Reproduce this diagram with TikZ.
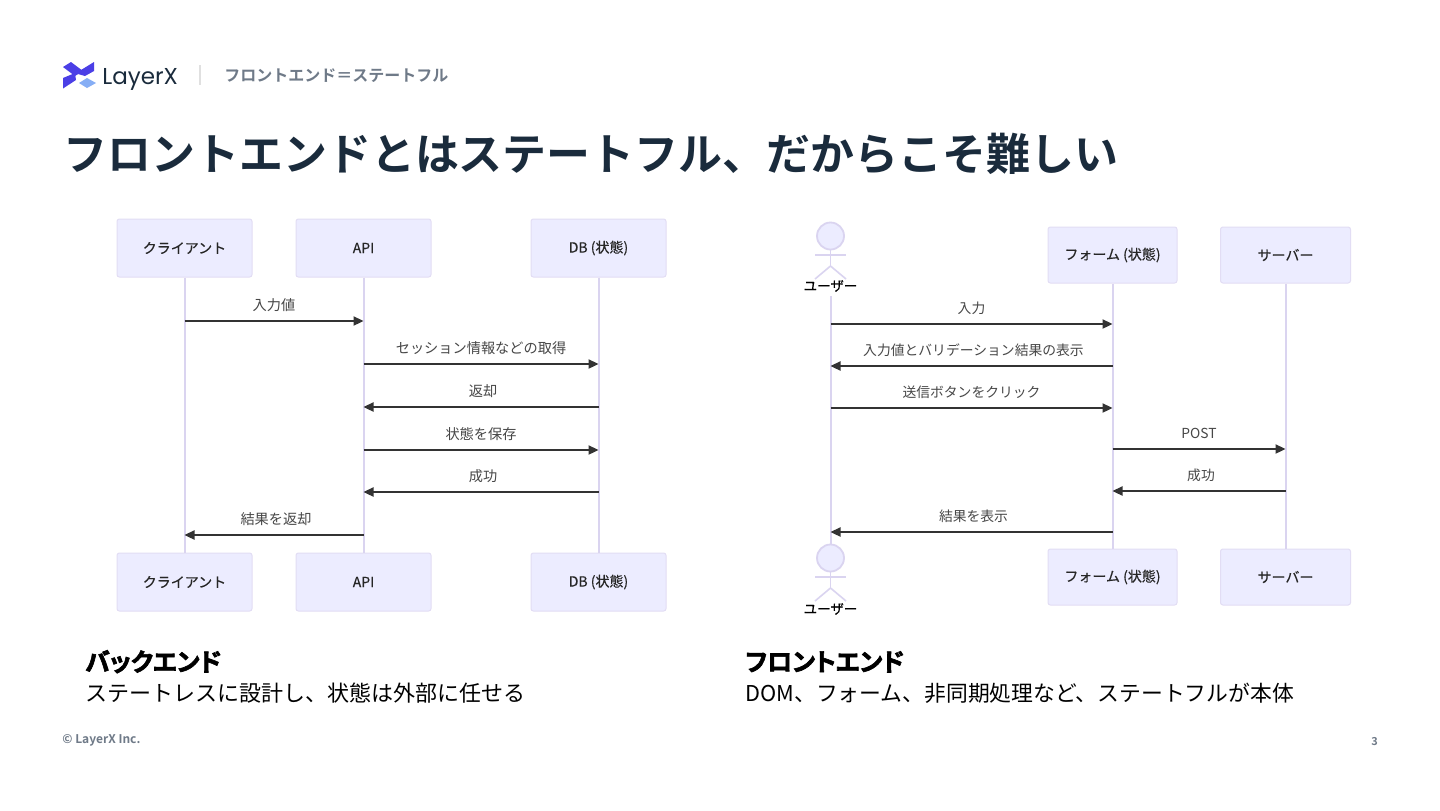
\documentclass[tikz,border=0pt]{standalone}
\usepackage{fontspec}
\usetikzlibrary{arrows.meta,calc}
\setmainfont{Noto Sans CJK JP}
\newfontfamily\jpbold{Noto Sans CJK JP Bold}
\newfontfamily\jpfake[FakeBold=2.5,RawFeature={+palt}]{Noto Sans CJK JP Bold}
\newfontfamily\jpsemi[FakeBold=0.4]{Noto Sans CJK JP}
\newfontfamily\logofont{Poppins}
\newcommand{\pxs}[1]{\fontsize{\dimexpr#1pt/2\relax}{\dimexpr#1pt*3/5\relax}\selectfont}
\definecolor{lifeln}{HTML}{DAD4F0}
\definecolor{boxfill}{HTML}{ECECFF}
\definecolor{boxline}{HTML}{E2DDF4}
\definecolor{titlec}{HTML}{1A2B3C}
\definecolor{subc}{HTML}{6F7A88}
\definecolor{msgc}{HTML}{333333}
\definecolor{logoa}{HTML}{4B3FE6}
\definecolor{logob}{HTML}{86AEF5}
\tikzset{
  x=0.5pt,y=-0.5pt,
  actorbox/.style={draw=boxline,fill=boxfill,line width=0.5pt,rounded corners=1.2pt,inner sep=0pt,font=\jpsemi\pxs{14}\color{black!85}},
  life/.style={draw=lifeln,line width=1pt},
  msg/.style={draw=msgc,line width=0.75pt,-{Triangle[length=5pt,width=4.6pt]}},
  msglabel/.style={font=\pxs{\msgsize}\color{black!72},inner sep=0pt,yshift=8pt},
  stick/.style={draw=lifeln,line width=0.8pt,fill=none},
  txt/.style={inner sep=0pt,anchor=base west},
  headc/.style={circle,draw=lifeln,fill=boxfill,line width=0.9pt,minimum size=13.5pt,inner sep=0pt},
  actorname/.style={inner sep=0pt,font=\jpsemi\pxs{13.5}\color{black}},
}
\newcommand{\abox}[6]{\node[actorbox,minimum width=#4*0.5pt,minimum height=#5*0.5pt] (#1) at (#2,#3) {\raisebox{-0.5pt}{#6}};}
% rightward message
\newcommand{\msgm}[5]{%
  \coordinate (#1a) at (#2 |- 0,#4);
  \coordinate (#1b) at (#3 |- 0,#4);
  \draw[msg] (#1a) -- node[msglabel] (#1t) {#5} (#1b);}
% leftward message: its label sits 2px to the right of the middle
\newcommand{\msgl}[5]{%
  \coordinate (#1a) at (#2 |- 0,#4);
  \coordinate (#1b) at (#3 |- 0,#4);
  \draw[msg] (#1a) -- node[msglabel,xshift=1pt] (#1t) {#5} (#1b);}
\begin{document}
\begin{tikzpicture}
\useasboundingbox (0,0) rectangle (1440,810);
\fill[white] (0,0) rectangle (1440,810);
% logo
\fill[logoa] (63,67) -- (71,62) -- (83,71) -- (75,76) -- cycle;
\fill[logoa] (81,70) -- (94,62) -- (94,71) -- (85,76) -- (78,74) -- cycle;
\fill[logoa] (63,78) -- (75,73) -- (76,80) -- (63,88.5) -- cycle;
\fill[logob] (79,83) -- (87,78) -- (96,83) -- (87,88) -- cycle;
\node[txt,font=\logofont\pxs{23}\color{titlec}] (logotext) at (102,84) {LayerX};
\coordinate (sepa) at (200,65);
\coordinate (sepb) at (200,85);
\draw[draw=black!12,line width=0.9pt] (sepa) -- (sepb);
\node[txt,font=\jpbold\pxs{16}\color{subc}] (crumb) at (224,81.5) {フロントエンド＝ステートフル};
\node[txt,font=\jpbold\pxs{43.95}\color{titlec}] (title) at (63,170) {フロントエンドとはステートフル、だからこそ難しい};
% left diagram
\def\msgsize{14.2}
\abox{lc}{184.5}{248}{135}{58}{クライアント}
\abox{la}{363.5}{248}{135}{58}{API}
\abox{ld}{598.5}{248}{135}{58}{DB (状態)}
\abox{lcb}{184.5}{582}{135}{58}{クライアント}
\abox{lab}{363.5}{582}{135}{58}{API}
\abox{ldb}{598.5}{582}{135}{58}{DB (状態)}
\draw[life] (lc) -- (lcb);
\draw[life] (la) -- (lab);
\draw[life] (ld) -- (ldb);
\msgm{lm1}{lc}{la}{321}{入力値}
\msgm{lm2}{la}{ld}{364}{セッション情報などの取得}
\msgl{lm3}{ld}{la}{407}{返却}
\msgm{lm4}{la}{ld}{450}{状態を保存}
\msgl{lm5}{ld}{la}{492}{成功}
\msgl{lm6}{la}{lc}{535}{結果を返却}
% right diagram
\def\msgsize{13.8}
\abox{rf}{1112.5}{255}{129}{56}{フォーム (状態)}
\abox{rs}{1285.5}{255}{130}{56}{サーバー}
\abox{rfb}{1112.5}{577}{129}{56}{フォーム (状態)}
\abox{rsb}{1285.5}{577}{130}{56}{サーバー}
\draw[life] (rf) -- (rfb);
\draw[life] (rs) -- (rsb);
% actor top
\node[headc] (h1) at (830.5,236) {};
\coordinate (a1l) at (815,255);
\coordinate (a1r) at (846,255);
\coordinate (a1w) at (830.5,266);
\coordinate (a1ll) at (815,279);
\coordinate (a1rl) at (846,279);
\draw[stick] (h1) -- (a1w);
\draw[stick] (a1l) -- (a1r);
\draw[stick] (a1ll) -- (a1w) -- (a1rl);
\node[actorname] (u1) at (830.5,286) {ユーザー};
% actor bottom
\node[headc] (h2) at (830.5,558) {};
\coordinate (a2l) at (815,577);
\coordinate (a2r) at (846,577);
\coordinate (a2w) at (830.5,588);
\coordinate (a2ll) at (815,601);
\coordinate (a2rl) at (846,601);
\draw[stick] (h2) -- (a2w);
\draw[stick] (a2l) -- (a2r);
\draw[stick] (a2ll) -- (a2w) -- (a2rl);
\node[actorname] (u2) at (830.5,609) {ユーザー};
\coordinate (ustart) at (830.5,296);
\draw[life] (ustart) -- (h2);
\msgm{rm1}{ustart}{rf}{324}{入力}
\msgl{rm2}{rf}{ustart}{366}{入力値とバリデーション結果の表示}
\msgm{rm3}{ustart}{rf}{408}{送信ボタンをクリック}
\msgm{rm4}{rf}{rs}{449}{POST}
\msgl{rm5}{rs}{rf}{491}{成功}
\msgl{rm6}{rf}{ustart}{532}{結果を表示}
% captions
\node[txt,font=\jpfake\pxs{24.8}\color{black}] (capl) at (85,671) {バックエンド};
\node[txt,font=\pxs{22}\color{black}] (subl) at (85,701.5) {ステートレスに設計し、状態は外部に任せる};
\node[txt,font=\jpfake\pxs{24.8}\color{black}] (capr) at (745,671) {フロントエンド};
\node[txt,font=\pxs{21.8}\color{black}] (subr) at (745,701.5) {DOM、フォーム、非同期処理など、ステートフルが本体};
% footer
\node[txt,font=\jpbold\pxs{12}\color{subc}] (foot) at (62,743) {© LayerX Inc.};
\node[txt,font=\jpbold\pxs{11}\color{subc}] (pg) at (1371,745) {3};
\end{tikzpicture}
\end{document}
